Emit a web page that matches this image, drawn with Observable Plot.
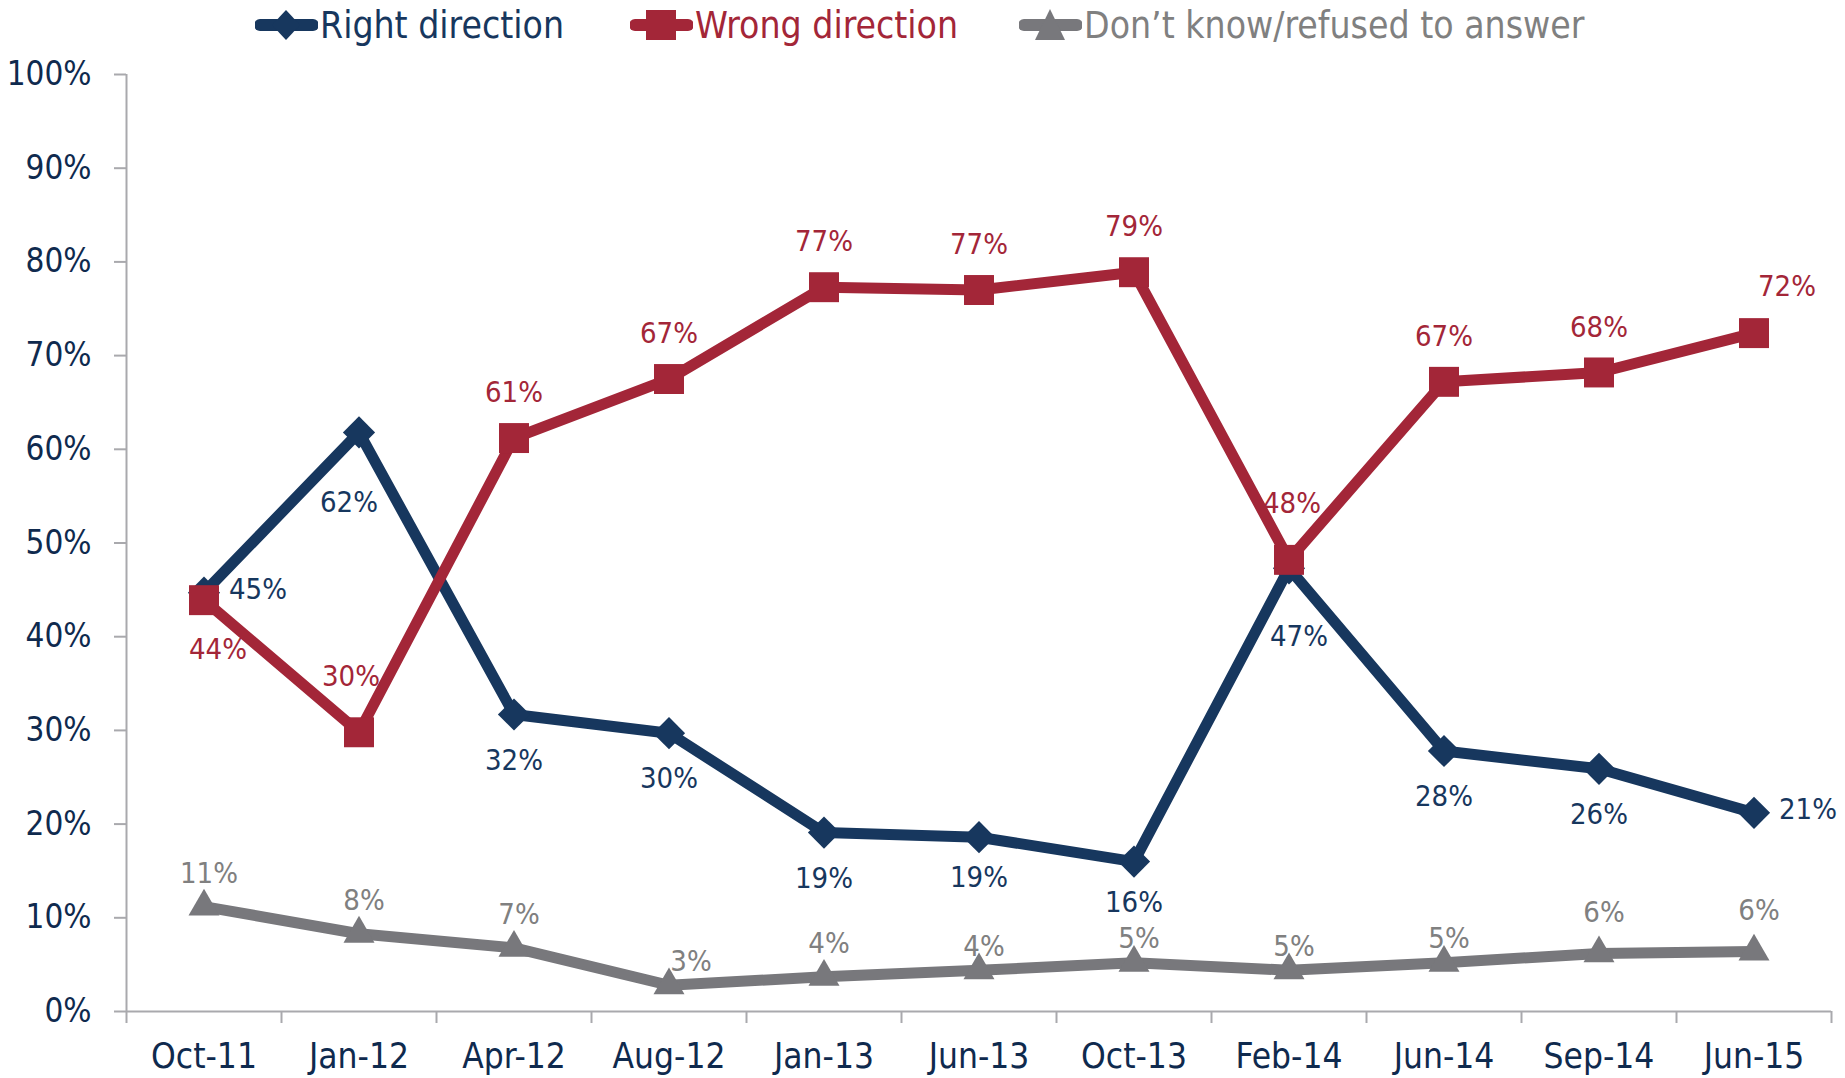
<!DOCTYPE html>
<html>
<head>
<meta charset="utf-8">
<script src="https://cdn.jsdelivr.net/npm/d3@7"></script>
<script src="https://cdn.jsdelivr.net/npm/@observablehq/plot@0.6"></script>
<style>
  html, body { margin: 0; padding: 0; background: #fff; }
  #wrap { position: relative; width: 1845px; height: 1078px; overflow: hidden; }
  #legend { position: relative; height: 50px; width: 1845px; }
  .item { position: absolute; top: 0; height: 50px; display: flex; align-items: center; white-space: nowrap;
          font-family: "DejaVu Sans Condensed", "Liberation Sans Narrow", "DejaVu Sans", sans-serif; font-stretch: condensed; font-size: 37px; }
  .item svg { display: block; margin-right: 2px; }
  #chart svg { display: block; }
</style>
</head>
<body>
<div id="wrap">
  <div id="legend"></div>
  <div id="chart"></div>
</div>
<script>
// ---------- data ----------
const categories = ["Oct-11","Jan-12","Apr-12","Aug-12","Jan-13","Jun-13","Oct-13","Feb-14","Jun-14","Sep-14","Jun-15"];
const seriesNames = ["Right direction","Wrong direction","Don’t know/refused to answer"];
const rightValues = [44.7, 61.8, 31.7, 29.7, 19.1, 18.6, 16.0, 47.3, 27.8, 25.9, 21.2];
const wrongValues = [43.9, 29.8, 61.2, 67.5, 77.3, 77.0, 78.9, 48.2, 67.2, 68.2, 72.4];
const dkValues    = [11.2, 8.3, 6.8, 2.8, 3.7, 4.4, 5.2, 4.4, 5.2, 6.2, 6.4];
const rightLabels = ["45%","62%","32%","30%","19%","19%","16%","47%","28%","26%","21%"];
const wrongLabels = ["44%","30%","61%","67%","77%","77%","79%","48%","67%","68%","72%"];
const dkLabels    = ["11%","8%","7%","3%","4%","4%","5%","5%","5%","6%","6%"];
const yTicks = [0,10,20,30,40,50,60,70,80,90,100];

// ---------- styles ----------
const navy = "#17375E", red = "#A32638", gray = "#78787C", grayText = "#808080";
const axisGray = "#A9A9AD", tickText = "#0F2A4E";
const font = "'DejaVu Sans Condensed', 'Liberation Sans Narrow', 'DejaVu Sans', sans-serif";
const colors = [navy, red, gray];
const labelColors = [navy, red, grayText];

// ---------- table ----------
const valueSets = [rightValues, wrongValues, dkValues];
const labelSets = [rightLabels, wrongLabels, dkLabels];
const rows = [];
seriesNames.forEach((s, k) => categories.forEach((c, i) => rows.push({series: s, k, cat: c, i, value: valueSets[k][i], label: labelSets[k][i]})));
const of = (k) => rows.filter(d => d.k === k);

// ---------- legend ----------
const legendLeft = [255, 630, 1019];
const legendSymbols = [
  `<polygon points="31,8 45,23 31,38 17,23" fill="${navy}"/>`,
  `<rect x="16" y="8" width="30" height="30" fill="${red}"/>`,
  `<polygon points="31,7 46,38 16,38" fill="${gray}"/>`
];
const legend = document.getElementById("legend");
seriesNames.forEach((s, k) => {
  const el = document.createElement("div");
  el.className = "item";
  el.style.left = legendLeft[k] + "px";
  el.style.color = labelColors[k];
  el.innerHTML = `<svg width="63" height="46"><line x1="5" x2="58" y1="23" y2="23" stroke="${colors[k]}" stroke-width="12" stroke-linecap="round"/>${legendSymbols[k]}</svg><span>${s}</span>`;
  legend.appendChild(el);
});

// ---------- label helper ----------
function labels(k, cats, opts) {
  return Plot.text(of(k).filter(d => cats.includes(d.cat)), {
    x: "i", y: "value", text: "label", fill: labelColors[k],
    fontSize: 29, fontFamily: font, ...opts
  });
}
const except = (list) => categories.filter(c => !list.includes(c));

const chart = Plot.plot({
  width: 1845,
  height: 1028,
  marginTop: 24,
  marginBottom: 67,
  marginLeft: 126,
  marginRight: 14,
  x: {type: "linear", domain: [-0.5, categories.length - 0.5]},
  y: {domain: [0, 100]},
  style: {fontFamily: font, background: "#fff"},
  marks: [
    // axes
    Plot.axisY({ticks: yTicks, tickSize: 12, tickFormat: () => "", color: axisGray, strokeWidth: 2, label: null}),
    Plot.axisY({ticks: yTicks, tickSize: 0, tickPadding: 35, tickFormat: d => d + "%", color: tickText, fontSize: 33, label: null}),
    Plot.axisX({ticks: d3.range(categories.length + 1).map(i => i - 0.5), tickSize: 12, tickFormat: () => "", color: axisGray, strokeWidth: 2, label: null}),
    Plot.axisX({ticks: d3.range(categories.length), tickSize: 0, tickPadding: 32, tickFormat: i => categories[i], color: tickText, fontSize: 35, label: null}),
    Plot.ruleY([0], {stroke: axisGray, strokeWidth: 2}),
    Plot.ruleX([-0.5], {stroke: axisGray, strokeWidth: 2}),
    // Right direction
    Plot.line(of(0), {x: "i", y: "value", stroke: navy, strokeWidth: 11}),
    Plot.dot(of(0), {x: "i", y: "value", symbol: "diamond2", fill: navy, r: 14.5}),
    // Wrong direction
    Plot.line(of(1), {x: "i", y: "value", stroke: red, strokeWidth: 11}),
    Plot.dot(of(1), {x: "i", y: "value", symbol: "square", fill: red, r: 16.9}),
    // Don't know
    Plot.line(of(2), {x: "i", y: "value", stroke: gray, strokeWidth: 11}),
    Plot.dot(of(2), {x: "i", y: "value", symbol: "triangle", fill: gray, r: 11.5}),
    // data labels
    labels(0, ["Oct-11", "Jun-15"], {textAnchor: "start", dx: 25, dy: -3}),
    labels(0, ["Jan-12"], {dx: -10, dy: 70}),
    labels(0, ["Feb-14"], {dx: 10, dy: 68}),
    labels(0, ["Oct-13", "Jun-13"], {dy: 41}),
    labels(0, except(["Oct-11", "Jun-15", "Jan-12", "Feb-14", "Oct-13", "Jun-13"]), {dy: 46}),
    labels(1, ["Oct-11"], {dx: 14, dy: 50}),
    labels(1, ["Jan-12"], {dx: -8, dy: -56}),
    labels(1, ["Feb-14"], {dx: 3, dy: -56}),
    labels(1, ["Jun-15"], {dx: 33, dy: -46}),
    labels(1, except(["Oct-11", "Jan-12", "Feb-14", "Jun-15"]), {dy: -45}),
    labels(2, ["Aug-12"], {dx: 22, dy: -24}),
    labels(2, ["Oct-11", "Jan-12", "Apr-12", "Jan-13"], {dx: 5, dy: -33}),
    labels(2, ["Jun-13", "Oct-13", "Feb-14", "Jun-14"], {dx: 5, dy: -24}),
    labels(2, ["Sep-14", "Jun-15"], {dx: 5, dy: -41})
  ]
});
document.getElementById("chart").appendChild(chart);
</script>
</body>
</html>
